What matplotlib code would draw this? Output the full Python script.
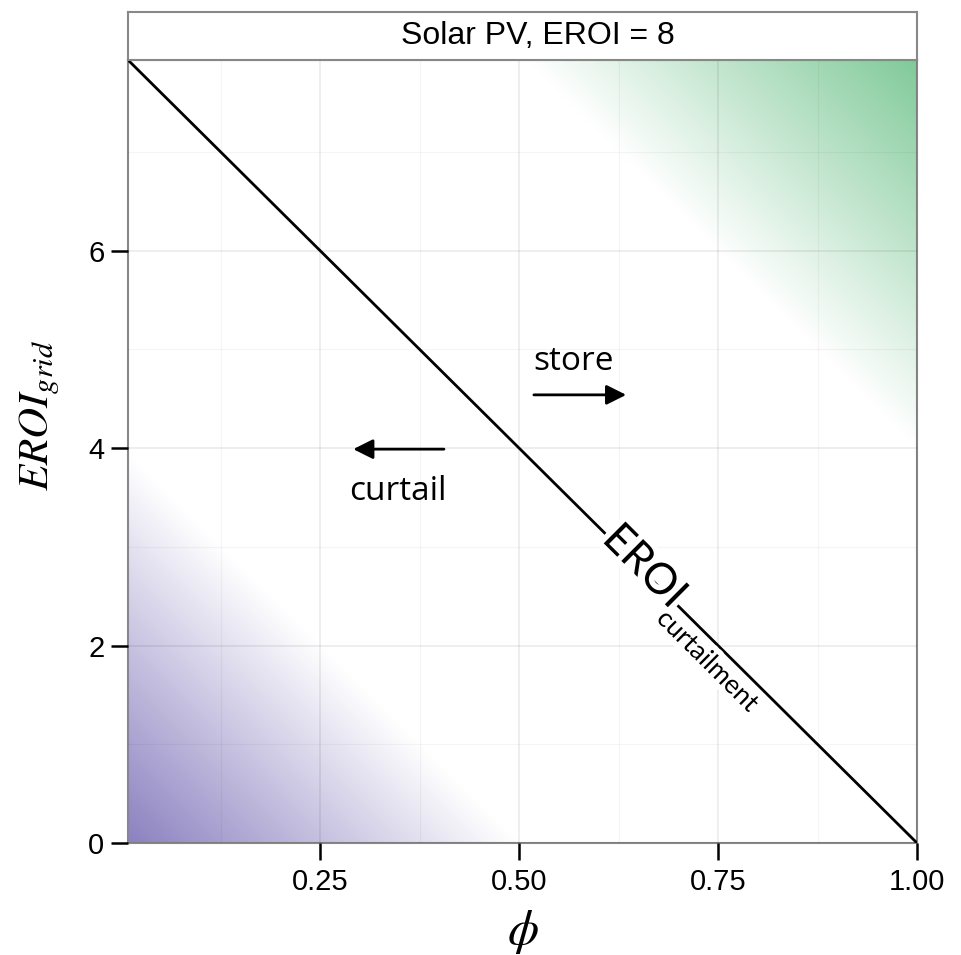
import numpy as np
import matplotlib.pyplot as plt
import matplotlib.patheffects as pe
from matplotlib.colors import to_rgb

plt.rcParams['font.family'] = ['Liberation Sans', 'DejaVu Sans']
plt.rcParams['mathtext.fontset'] = 'stix'

# panel settings
panel_title = 'Solar PV, EROI = 8'
eroi = 8
phi_min, phi_max = 0.0084, 1.0

x_ticks = [0.25, 0.50, 0.75, 1.00]
x_ticklabels = ['0.25', '0.50', '0.75', '1.00']
x_minor = [0.125, 0.375, 0.625, 0.875]
y_ticks = [0, 2, 4, 6]
y_minor = [1, 3, 5, 7]

# break-even line  EROI_grid = EROI * (1 - phi)
line_phi = [phi_min, 1.0]
line_eroi = [eroi * (1 - p) for p in line_phi]

purple = to_rgb('#8a7fbf')
green = to_rgb('#7ec997')

fig = plt.figure(figsize=(9.61, 9.55), dpi=100)
ax = fig.add_axes([0.1332, 0.1173, 0.8210, 0.8199])

# background fill: distance above / below the break-even line
y_max = eroi * (1 - phi_min)
px, py = np.meshgrid(np.linspace(phi_min, phi_max, 600), np.linspace(0, y_max, 600))
diff = py - eroi * (1 - px)
half = eroi / 2
a_green = np.clip((diff - half) / half, 0, 1)
a_purple = np.clip((-diff - half) / half, 0, 1)
img = np.ones(px.shape + (3,))
for c in range(3):
    img[..., c] = 1 - a_green * (1 - green[c]) - a_purple * (1 - purple[c])
ax.imshow(img, origin='lower', extent=[phi_min, phi_max, 0, y_max],
          aspect='auto', interpolation='bilinear', zorder=0)

ax.set_xlim(phi_min, phi_max)
ax.set_ylim(0, y_max)

ax.set_xticks(x_ticks)
ax.set_xticklabels(x_ticklabels)
ax.set_xticks(x_minor, minor=True)
ax.set_yticks(y_ticks)
ax.set_yticks(y_minor, minor=True)
ax.grid(True, which='major', color='black', alpha=0.08, lw=1.2, zorder=1)
ax.grid(True, which='minor', color='black', alpha=0.04, lw=0.8, zorder=1)
ax.set_axisbelow(False)
ax.tick_params(which='major', length=12, width=1.8, color='black',
               labelsize=21)
ax.tick_params(axis='x', pad=6)
ax.tick_params(axis='y', pad=5)
ax.tick_params(which='minor', length=0)
for s in ax.spines.values():
    s.set_color('#888888')
    s.set_linewidth(1.5)

ax.plot(line_phi, line_eroi, color='black', lw=2, zorder=3)

# arrows and labels
ax.annotate('', xy=(0.638, 4.54), xytext=(0.515, 4.54),
            arrowprops=dict(arrowstyle='-|>', color='black', lw=2,
                            mutation_scale=30), zorder=4)
ax.text(0.518, 4.88, 'store', fontsize=24, family='Open Sans',
        ha='left', va='center', zorder=4)
ax.annotate('', xy=(0.288, 3.99), xytext=(0.409, 3.99),
            arrowprops=dict(arrowstyle='-|>', color='black', lw=2,
                            mutation_scale=30), zorder=4)
ax.text(0.347, 3.56, 'curtail', fontsize=24, family='Open Sans',
        ha='center', va='center', zorder=4)

halo = [pe.withStroke(linewidth=8, foreground='white')]
ax.text(0.657, 2.8, 'EROI', fontsize=31, family='Lato', rotation=-44.9,
        rotation_mode='anchor', ha='center', va='center', zorder=5,
        path_effects=halo)
ax.text(0.737, 1.84, 'curtailment', fontsize=19, family='Lato',
        rotation=-44.9, rotation_mode='anchor', ha='center', va='center',
        zorder=5, path_effects=halo)

ax.set_xlabel(r'$\phi$', fontsize=36, labelpad=9)
ax.set_ylabel(r'$EROI_{grid}$', fontsize=31)
ax.yaxis.set_label_coords(-0.084, 0.546)

# facet strip
strip = fig.add_axes([0.1332, 0.9372, 0.8210, 0.0503])
strip.set_xticks([])
strip.set_yticks([])
for s in strip.spines.values():
    s.set_color('#888888')
    s.set_linewidth(1.5)
strip.text(0.52, 0.5, panel_title, fontsize=23, ha='center', va='center',
           transform=strip.transAxes)

fig.savefig('out.png', dpi=100)
